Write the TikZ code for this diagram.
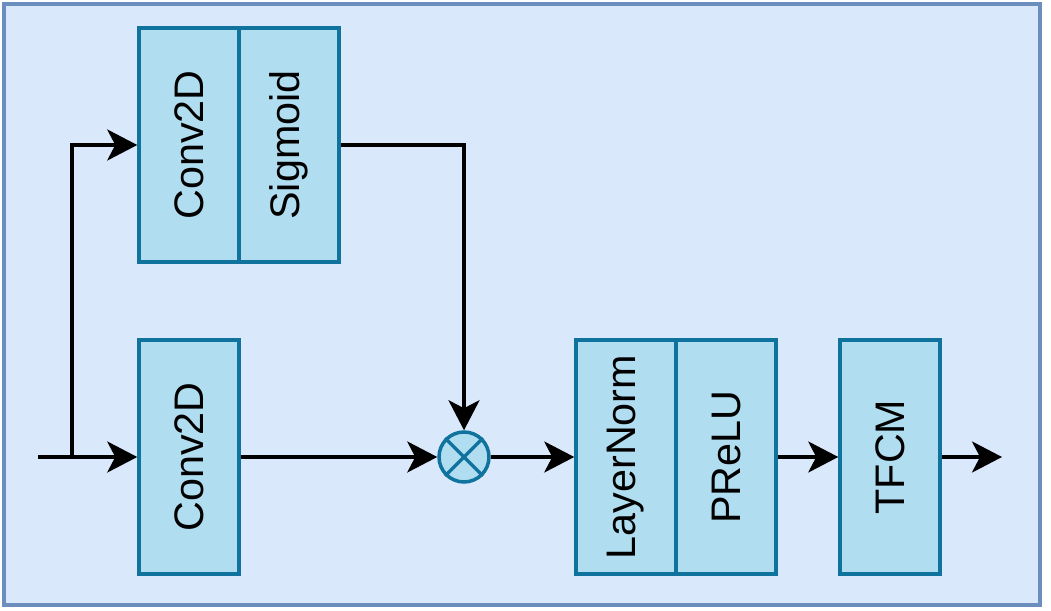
\documentclass[tikz,border=0pt]{standalone}
\usepackage{fontspec}
\setmainfont{Liberation Sans}
\usepackage{graphicx}
\usetikzlibrary{arrows.meta}
\definecolor{bgfill}{HTML}{DAE8FC}
\definecolor{bgline}{HTML}{6C8EBF}
\definecolor{boxfill}{HTML}{B1DDF0}
\definecolor{boxline}{HTML}{10739E}
\tikzset{
	block/.style={draw=boxline,fill=boxfill,line width=2pt,minimum width=2cm,minimum height=4.68cm,inner sep=0pt,font=\fontsize{23.5}{27}\selectfont},
	flow/.style={line width=2pt,-{Stealth[length=0.6cm,width=0.62cm,inset=0.16cm]}}
}
\newcommand{\vtext}[1]{\rotatebox{90}{#1}}
\begin{document}
\begin{tikzpicture}
	\useasboundingbox (0,0) rectangle (21.02,-12.22);
	\draw[bgline,fill=bgfill,line width=2pt] (0.08,-0.08) rectangle (20.8,-12.1);
	% upper branch
	\node[block] (convA) at (3.78,-2.9) {\vtext{Conv2D}};
	\node[block] (sig) at (5.78,-2.9) {\vtext{Sigmoid}};
	% lower branch
	\node[block] (convB) at (3.78,-9.14) {\vtext{Conv2D}};
	\node[draw=boxline,fill=boxfill,line width=2pt,circle,minimum size=1cm] (mul) at (9.28,-9.14) {};
	\draw[boxline,line width=2pt] (mul.north west) -- (mul.south east) (mul.north east) -- (mul.south west);
	\node[block] (ln) at (12.52,-9.14) {\vtext{LayerNorm}};
	\node[block] (prelu) at (14.52,-9.14) {\vtext{PReLU}};
	\node[block] (tfcm) at (17.8,-9.14) {\vtext{TFCM}};
	\coordinate (in) at (0.76,-9.14);
	\coordinate (split) at (1.44,-9.14);
	\coordinate (out) at (20.04,-9.14);
	% connectors
	\draw[flow] (in) -- (convB);
	\draw[flow] (split) |- (convA);
	\draw[flow] (sig) -| (mul);
	\draw[flow] (convB) -- (mul);
	\draw[flow] (mul) -- (ln);
	\draw[flow] (prelu) -- (tfcm);
	\draw[flow] (tfcm) -- (out);
\end{tikzpicture}
\end{document}
